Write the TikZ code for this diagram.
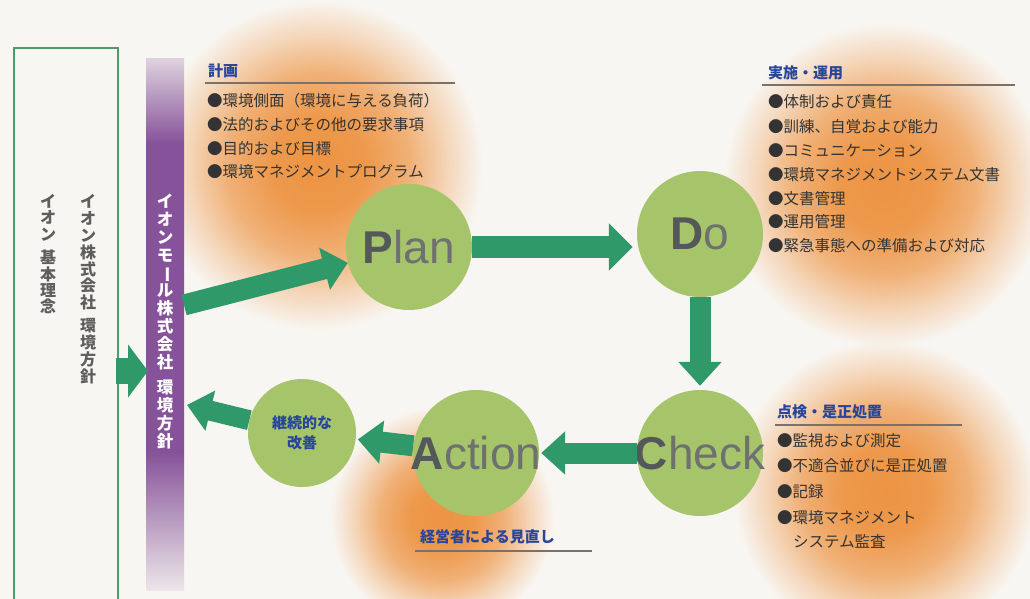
\documentclass[tikz,border=0pt]{standalone}
\usepackage{fontspec}
\setmainfont{Liberation Sans}
\newfontfamily\jp{Noto Sans CJK JP}
\usetikzlibrary{arrows.meta}
\definecolor{bg}{HTML}{F8F6F2}
\definecolor{org}{HTML}{F49A48}
\definecolor{pu}{HTML}{86529A}
\definecolor{arr}{HTML}{30996A}
\definecolor{cir}{HTML}{A6C46A}
\definecolor{boxc}{HTML}{4E9C6C}
\definecolor{hd}{HTML}{27459A}
\definecolor{txt}{HTML}{333333}
\definecolor{vt}{HTML}{5E5E5E}
\definecolor{bigd}{HTML}{55585A}
\definecolor{bigl}{HTML}{6E7170}
\definecolor{rule}{HTML}{7D7066}
\pgfdeclareradialshading{glow}{\pgfpoint{0bp}{0bp}}{color(0bp)=(org); color(7bp)=(org!96!white); color(14bp)=(org!70!white); color(20bp)=(org!30!white); color(25bp)=(white); color(50bp)=(white)}
\pgfdeclareverticalshading{pbar}{100bp}{color(0bp)=(pu!10!bg); color(25bp)=(pu!10!bg); color(38bp)=(pu); color(67bp)=(pu); color(75bp)=(pu!22!bg); color(100bp)=(pu!22!bg)}
\begin{document}
\begin{tikzpicture}[x=1pt,y=-1pt,
  jarrow/.style={draw=arr, line width=22pt, -{Triangle[length=24pt,width=46pt]}},
  sarrow/.style={draw=arr, line width=21pt, -{Triangle[length=24pt,width=42pt]}},
  pdca/.style={circle, fill=cir, minimum size=126pt, inner sep=0pt},
  item/.style={anchor=west, inner sep=0pt, text=txt, font=\jp\fontsize{15.5}{18}\selectfont},
  head/.style={anchor=west, inner sep=0pt, text=hd, font=\jp\bfseries\fontsize{15}{18}\selectfont},
  big/.style={font=\fontsize{46}{46}\selectfont, text=bigl},
  vtext/.style={anchor=north, inner sep=0pt, align=center},
  hrule/.style={draw=rule, line width=1.1pt}
  ]
\fill[bg] (0,0) rectangle (1030,599);
\useasboundingbox (0,0) rectangle (1030,599);

% glows
\begin{scope}[blend mode=multiply]
\shade[shading=glow] (318,165) circle (165);
\shade[shading=glow] (885,185) circle (162);
\shade[shading=glow] (885,492) circle (152);
\shade[shading=glow] (442,518) circle (112);
\end{scope}

% left box
\node[draw=boxc, line width=2pt, minimum width=104pt, minimum height=560pt, anchor=north west, inner sep=0pt] (box) at (13,47) {};
\node[vtext, text=vt, font=\jp\bfseries\fontsize{16}{16.9}\selectfont] (t1) at (88,194) {イ\\オ\\ン\\株\\式\\会\\社\\[6pt]環\\境\\方\\針};
\node[vtext, text=vt, font=\jp\bfseries\fontsize{16}{16.4}\selectfont] (t2) at (48,194) {イ\\オ\\ン\\[7pt]基\\本\\理\\念};

% purple bar
\node[shade, shading=pbar, minimum width=38pt, minimum height=532pt, anchor=north west, inner sep=0pt] (bar) at (146,58) {};
\node[vtext, text=white, font=\jp\bfseries\fontsize{16.5}{17.8}\selectfont] (t3) at (165,194) {イ\\オ\\ン\\モ\\\rotatebox[origin=c]{-90}{ー}\\ル\\株\\式\\会\\社\\[8pt]環\\境\\方\\針};

% circles
\node[pdca] (plan) at (409,247) {};
\node[pdca] (do) at (700,234) {};
\node[pdca] (check) at (700,453) {};
\node[pdca] (action) at (476,453) {};
\node[circle, fill=cir, minimum size=108pt, inner sep=0pt] (kaizen) at (302,433) {};

\node[big] at (plan) {{\color{bigd}\bfseries P}lan};
\node[big] at (do) {{\color{bigd}\bfseries D}o};
\node[big] at (check) {{\color{bigd}\bfseries C}heck};
\node[big] at (action) {{\color{bigd}\bfseries A}ction};
\node[align=center, text=hd, font=\jp\bfseries\fontsize{15}{20}\selectfont] at (kaizen) {継続的な\\改善};

% arrows
\coordinate (boxout) at (116,371);
\coordinate (barin) at (148,371);
\coordinate (barout) at (184,305);
\coordinate (barback) at (187,405);
\draw[jarrow, line width=26pt, -{Triangle[length=20pt,width=52pt]}] (boxout) -- (barin);
\draw[sarrow] (barout) -- (plan);
\draw[jarrow, shorten >=4pt] (plan.east) -- (plan.east -| do.west);
\draw[sarrow, shorten >=4pt] (do) -- (check);
\draw[sarrow, shorten >=2pt] (check) -- (action);
\draw[sarrow, shorten >=2pt] (action) -- (kaizen);
\draw[sarrow, line width=20pt, -{Triangle[length=24pt,width=40pt]}] (kaizen) -- (barback);

% Plan text
\node[head] (hplan) at (208,71) {計画};
\draw[hrule] (205,83) -- (455,83);
\node[item] at (207,101) {●環境側面（環境に与える負荷）};
\node[item] at (207,125) {●法的およびその他の要求事項};
\node[item] at (207,149) {●目的および目標};
\node[item] at (207,172) {●環境マネジメントプログラム};

% Do text
\node[head] (hdo) at (768,73) {実施・運用};
\draw[hrule] (762,85) -- (1015,85);
\node[item] at (768,102) {●体制および責任};
\node[item] at (768,127) {●訓練、自覚および能力};
\node[item] at (768,151) {●コミュニケーション};
\node[item] at (768,175) {●環境マネジメントシステム文書};
\node[item] at (768,199) {●文書管理};
\node[item] at (768,222) {●運用管理};
\node[item] at (768,246) {●緊急事態への準備および対応};

% Check text
\node[head] (hcheck) at (777,412) {点検・是正処置};
\draw[hrule] (775,425) -- (962,425);
\node[item] at (777,441) {●監視および測定};
\node[item] at (777,466) {●不適合並びに是正処置};
\node[item] at (777,492) {●記録};
\node[item] at (777,518) {●環境マネジメント};
\node[item] at (793,541) {システム監査};

% Action text
\node[head] (haction) at (420,537) {経営者による見直し};
\draw[hrule] (415,551) -- (592,551);
\end{tikzpicture}
\end{document}
